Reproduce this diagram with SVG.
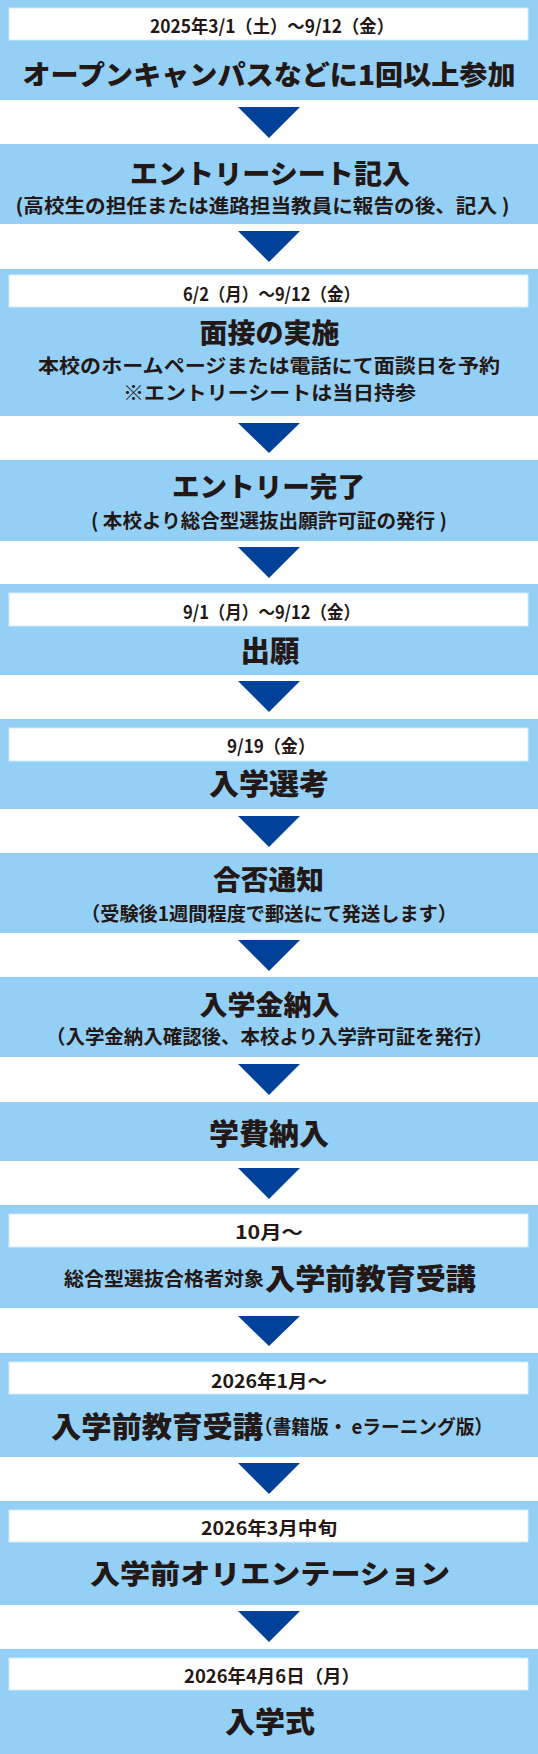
<svg xmlns="http://www.w3.org/2000/svg" width="538" height="1754" viewBox="0 0 538 1754">
<style>
.band{fill:#94d0f5}
.box{fill:#ffffff;stroke:#d4ecfb;stroke-width:1}
.arr{fill:#00419a}
text{font-family:"Noto Sans CJK JP","Noto Sans",sans-serif;fill:#231815;dominant-baseline:central;font-weight:700}
.d{font-size:18px;font-weight:700}
.t{font-size:27px;font-weight:900}
.t2{font-size:29px;font-weight:900}
.s{font-size:19.5px;font-weight:700}
</style>
<rect width="538" height="1754" fill="#ffffff"/>
<g id="connectors">
<polygon class="arr" points="238,107 300,107 269,138"/>
<polygon class="arr" points="238,231 300,231 269,262"/>
<polygon class="arr" points="238,423 300,423 269,453"/>
<polygon class="arr" points="238,547 300,547 269,578"/>
<polygon class="arr" points="238,681 300,681 269,712"/>
<polygon class="arr" points="238,816 300,816 269,847"/>
<polygon class="arr" points="238,940 300,940 269,971"/>
<polygon class="arr" points="238,1064 300,1064 269,1095"/>
<polygon class="arr" points="238,1168 300,1168 269,1199"/>
<polygon class="arr" points="238,1316 300,1316 269,1346"/>
<polygon class="arr" points="238,1463 300,1463 269,1494"/>
<polygon class="arr" points="238,1611 300,1611 269,1642"/>
</g>
<g id="step1">
<rect class="band" x="0" y="0" width="538" height="100"/>
<rect class="box" x="9" y="8" width="519" height="32"/>
<text class="d" x="150" y="25" textLength="244" lengthAdjust="spacingAndGlyphs">2025年3/1（土）～9/12（金）</text>
<text class="t" x="22.5" y="73" font-size="26" textLength="493" lengthAdjust="spacingAndGlyphs">オープンキャンパスなどに1回以上参加</text>
</g>
<g id="step2">
<rect class="band" x="0" y="144" width="538" height="80"/>
<text class="t" x="130" y="172" textLength="280" lengthAdjust="spacingAndGlyphs">エントリーシート記入</text>
<text class="s" x="15.5" y="204" textLength="494" lengthAdjust="spacingAndGlyphs">(高校生の担任または進路担当教員に報告の後、記入 )</text>
</g>
<g id="step3">
<rect class="band" x="0" y="269" width="538" height="147"/>
<rect class="box" x="9" y="275" width="519" height="32"/>
<text class="d" x="183" y="293" textLength="177" lengthAdjust="spacingAndGlyphs">6/2（月）～9/12（金）</text>
<text class="t" x="199.5" y="331" textLength="140" lengthAdjust="spacingAndGlyphs">面接の実施</text>
<text class="s" x="38" y="364" textLength="462" lengthAdjust="spacingAndGlyphs">本校のホームページまたは電話にて面談日を予約</text>
<text class="s" x="123" y="391" textLength="293" lengthAdjust="spacingAndGlyphs">※エントリーシートは当日持参</text>
</g>
<g id="step4">
<rect class="band" x="0" y="460" width="538" height="81"/>
<text class="t" x="172" y="485" textLength="193" lengthAdjust="spacingAndGlyphs">エントリー完了</text>
<text class="s" x="91" y="519" textLength="356" lengthAdjust="spacingAndGlyphs">( 本校より総合型選抜出願許可証の発行 )</text>
</g>
<g id="step5">
<rect class="band" x="0" y="584" width="538" height="91"/>
<rect class="box" x="9" y="593" width="519" height="33"/>
<text class="d" x="183" y="611" textLength="177" lengthAdjust="spacingAndGlyphs">9/1（月）～9/12（金）</text>
<text class="t2" x="240.5" y="649" textLength="59" lengthAdjust="spacingAndGlyphs">出願</text>
</g>
<g id="step6">
<rect class="band" x="0" y="719" width="538" height="90"/>
<rect class="box" x="9" y="728" width="519" height="33"/>
<text class="d" x="227" y="745" textLength="88" lengthAdjust="spacingAndGlyphs">9/19（金）</text>
<text class="t2" x="209" y="782" textLength="120" lengthAdjust="spacingAndGlyphs">入学選考</text>
</g>
<g id="step7">
<rect class="band" x="0" y="853" width="538" height="80"/>
<text class="t" x="213" y="878" textLength="111" lengthAdjust="spacingAndGlyphs">合否通知</text>
<text class="s" x="81" y="912" textLength="376" lengthAdjust="spacingAndGlyphs">（受験後1週間程度で郵送にて発送します）</text>
</g>
<g id="step8">
<rect class="band" x="0" y="977" width="538" height="80"/>
<text class="t" x="199.5" y="1003" textLength="140" lengthAdjust="spacingAndGlyphs">入学金納入</text>
<text class="s" x="46" y="1035" textLength="447" lengthAdjust="spacingAndGlyphs">（入学金納入確認後、本校より入学許可証を発行）</text>
</g>
<g id="step9">
<rect class="band" x="0" y="1102" width="538" height="59"/>
<text class="t2" x="209" y="1132" textLength="120" lengthAdjust="spacingAndGlyphs">学費納入</text>
</g>
<g id="step10">
<rect class="band" x="0" y="1205" width="538" height="103"/>
<rect class="box" x="9" y="1214" width="519" height="33"/>
<text class="d" x="235" y="1231" textLength="68" lengthAdjust="spacingAndGlyphs">10月～</text>
<text class="s" x="64" y="1277" textLength="200" lengthAdjust="spacingAndGlyphs">総合型選抜合格者対象</text>
<text class="t2" x="265" y="1277" textLength="211" lengthAdjust="spacingAndGlyphs">入学前教育受講</text>
</g>
<g id="step11">
<rect class="band" x="0" y="1353" width="538" height="104"/>
<rect class="box" x="9" y="1362" width="519" height="32"/>
<text class="d" x="211" y="1380" textLength="116" lengthAdjust="spacingAndGlyphs">2026年1月～</text>
<text class="t2" x="51" y="1425" textLength="212" lengthAdjust="spacingAndGlyphs">入学前教育受講</text>
<text class="s" x="254" y="1425" font-size="18.5" textLength="239" lengthAdjust="spacingAndGlyphs">（書籍版・ eラーニング版）</text>
</g>
<g id="step12">
<rect class="band" x="0" y="1501" width="538" height="104"/>
<rect class="box" x="9" y="1510" width="519" height="32"/>
<text class="d" x="201" y="1527" textLength="136" lengthAdjust="spacingAndGlyphs">2026年3月中旬</text>
<text class="t" x="90" y="1572" font-size="28" textLength="360" lengthAdjust="spacingAndGlyphs">入学前オリエンテーション</text>
</g>
<g id="step13">
<rect class="band" x="0" y="1649" width="538" height="105"/>
<rect class="box" x="9" y="1658" width="519" height="32"/>
<text class="d" x="184" y="1675" textLength="176" lengthAdjust="spacingAndGlyphs">2026年4月6日（月）</text>
<text class="t2" x="225" y="1720" textLength="90" lengthAdjust="spacingAndGlyphs">入学式</text>
</g>
</svg>
